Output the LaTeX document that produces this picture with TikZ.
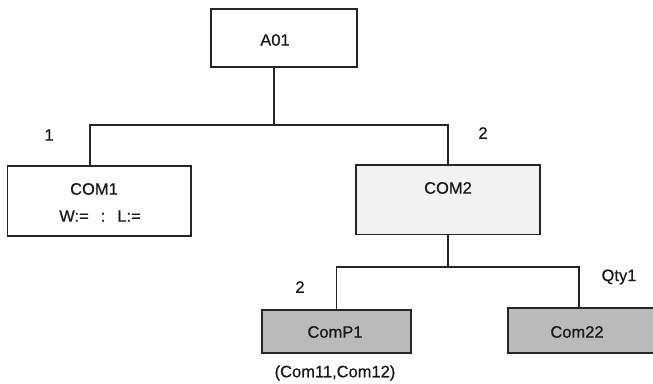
\documentclass[tikz,border=0pt]{standalone}
\usepackage{fontspec}
\setmainfont{Liberation Sans}[FakeBold=0.6]
\begin{document}
\begin{tikzpicture}[x=1pt,y=-1pt,
  box/.style={draw=black!85, line width=1.4pt, rectangle, inner sep=0pt},
  wbox/.style={box, fill=white},
  lbox/.style={box, fill=black!5},
  gbox/.style={box, fill=black!27},
  txt/.style={inner sep=0pt, font=\fontsize{16.5}{19}\selectfont, text=black!90},
  conn/.style={draw=black!85, line width=1.4pt}]
\useasboundingbox (0,0) rectangle (653,383);
% boxes
\node[wbox, minimum width=146pt, minimum height=58pt] (a01) at (284,38) {};
\node[wbox, minimum width=183.5pt, minimum height=70pt] (com1) at (99.25,201) {};
\node[lbox, minimum width=184pt, minimum height=69.5pt] (com2) at (448,199.75) {};
\node[gbox, minimum width=149pt, minimum height=43pt] (comp1) at (336.5,331.5) {};
\node[gbox, minimum width=152pt, minimum height=45pt] (com22) at (584,330.5) {};
% junctions
\coordinate (j1) at (274,125);
\coordinate (l1) at (90,125);
\coordinate (j2) at (448,267);
\coordinate (r2) at (579,267);
% connectors
\draw[conn] (a01.south -| j1) -- (j1);
\draw[conn] (com1.north -| l1) -- (l1) -| (com2.north);
\draw[conn] (com2.south) -- (j2);
\draw[conn] (comp1.north) |- (j2) -- (r2) -- (com22.north -| r2);
% texts
\node[txt] (ta01) at (275,40) {A01};
\node[txt] (tcom1) at (94,189) {COM1};
\node[txt] (twl) at (100,216) {W:=\hspace{12pt}:\hspace{12pt}L:=};
\node[txt] (tcom2) at (448,188) {COM2};
\node[txt] (tcomp1) at (335,332) {ComP1};
\node[txt] (tcom22) at (577,332) {Com22};
\node[txt] (n1) at (49,135) {1};
\node[txt] (n2) at (483,133) {2};
\node[txt] (n3) at (300,287) {2};
\node[txt] (qty) at (619,277) {Qty1};
\node[txt] (sub) at (335,373) {(Com11,Com12)};
\end{tikzpicture}
\end{document}
